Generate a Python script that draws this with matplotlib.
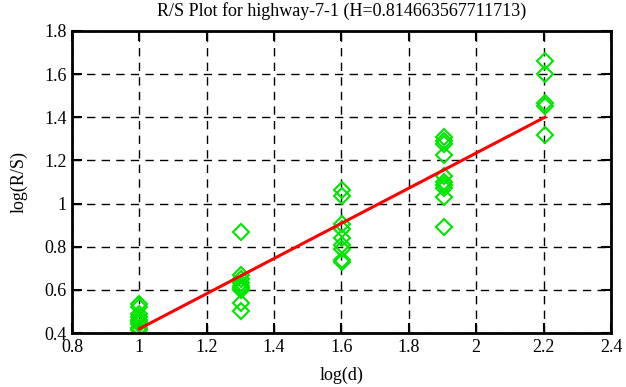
#!/usr/bin/env python3
"""R/S plot for highway-7-1 with fitted Hurst line."""

import matplotlib
matplotlib.use("Agg")
import matplotlib.pyplot as plt
import numpy as np

plt.rcParams["font.family"] = ["Liberation Serif", "DejaVu Serif"]

# log10 of block sizes and the log(R/S) values measured for each
log_d = [1.0] * 9 + [1.301] * 9 + [1.602] * 9 + [1.903] * 10 + [2.204] * 5
log_rs = [
    0.535, 0.52, 0.49, 0.475, 0.46, 0.45, 0.44, 0.425, 0.415,
    0.87, 0.67, 0.65, 0.63, 0.62, 0.61, 0.60, 0.54, 0.50,
    1.065, 1.035, 0.905, 0.88, 0.84, 0.81, 0.79, 0.74, 0.73,
    1.31, 1.29, 1.275, 1.225, 1.13, 1.10, 1.085, 1.07, 1.03, 0.89,
    1.66, 1.60, 1.465, 1.45, 1.32,
]

hurst = 0.814663567711713
intercept = -0.395
fit_x = [1.0, 2.204]

fig = plt.figure(figsize=(6.26, 3.87), dpi=100)
ax = fig.add_axes([0.115, 0.1395, 0.861, 0.7805])

ax.plot(log_d, log_rs, linestyle="none", marker="D", markersize=8.5,
        markerfacecolor="none", markeredgecolor="#00e600", markeredgewidth=1.5)
ax.plot(fit_x, np.polyval([hurst, intercept], fit_x), color="#ff0000", linewidth=2.2)

ax.set_xlim(0.8, 2.4)
ax.set_ylim(0.4, 1.8)
ax.set_xticks(np.arange(0.8, 2.41, 0.2))
ax.set_yticks(np.arange(0.4, 1.81, 0.2))
ax.set_xticklabels(["0.8", "1", "1.2", "1.4", "1.6", "1.8", "2", "2.2", "2.4"])
ax.set_yticklabels(["0.4", "0.6", "0.8", "1", "1.2", "1.4", "1.6", "1.8"])
ax.tick_params(direction="in", length=7, width=1.5, labelsize=13,
               top=True, right=True, pad=4)
ax.grid(True, color="black", linestyle=(0, (6, 4.5)), linewidth=1.0)
for spine in ax.spines.values():
    spine.set_linewidth(2)

ax.set_xlabel("log(d)", fontsize=13, labelpad=8)
ax.set_ylabel("log(R/S)", fontsize=13, labelpad=12)
ax.set_title(f"R/S Plot for highway-7-1 (H={hurst})", fontsize=13, pad=11)

fig.savefig("out.png", dpi=100)
